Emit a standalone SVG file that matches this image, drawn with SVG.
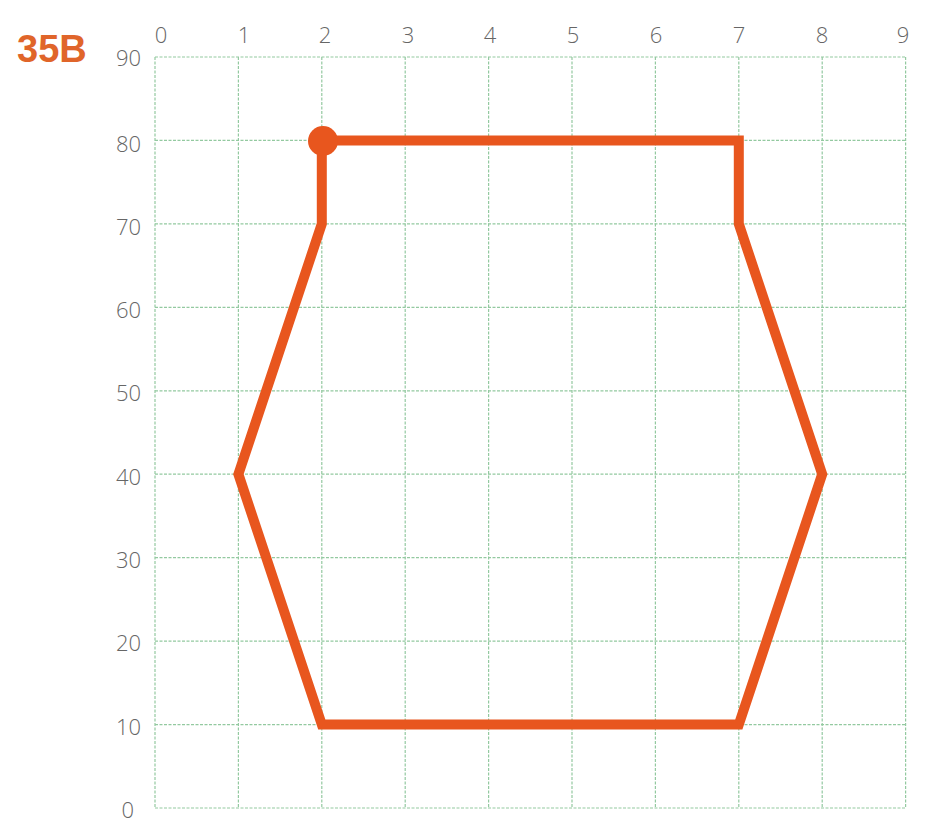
<svg xmlns="http://www.w3.org/2000/svg" width="927" height="833" viewBox="0 0 927 833">
<style>
.grid line{stroke:#93c9a0;stroke-width:1.2;stroke-dasharray:3 1.5}
.lbl{font-family:"Open Sans","Liberation Sans",sans-serif;font-size:22px;fill:#666666;font-weight:300}
.xl{text-anchor:middle}
.yl{text-anchor:end}
.title{font-family:"Liberation Sans",sans-serif;font-weight:bold;font-size:38px;fill:#e0652a}
</style>
<rect width="927" height="833" fill="#ffffff"/>
<text class="title" x="17" y="62">35B</text>
<g class="grid" id="grid">
<line x1="155" y1="57" x2="155" y2="808"/>
<line x1="238.4" y1="57" x2="238.4" y2="808"/>
<line x1="321.8" y1="57" x2="321.8" y2="808"/>
<line x1="405.2" y1="57" x2="405.2" y2="808"/>
<line x1="488.6" y1="57" x2="488.6" y2="808"/>
<line x1="572" y1="57" x2="572" y2="808"/>
<line x1="655.4" y1="57" x2="655.4" y2="808"/>
<line x1="738.8" y1="57" x2="738.8" y2="808"/>
<line x1="822.2" y1="57" x2="822.2" y2="808"/>
<line x1="905.6" y1="57" x2="905.6" y2="808"/>
<line x1="155" y1="57" x2="905.6" y2="57"/>
<line x1="155" y1="140.4" x2="905.6" y2="140.4"/>
<line x1="155" y1="223.9" x2="905.6" y2="223.9"/>
<line x1="155" y1="307.3" x2="905.6" y2="307.3"/>
<line x1="155" y1="390.8" x2="905.6" y2="390.8"/>
<line x1="155" y1="474.2" x2="905.6" y2="474.2"/>
<line x1="155" y1="557.6" x2="905.6" y2="557.6"/>
<line x1="155" y1="641.1" x2="905.6" y2="641.1"/>
<line x1="155" y1="724.6" x2="905.6" y2="724.6"/>
<line x1="155" y1="808" x2="905.6" y2="808"/>
</g>
<g id="x-labels" class="lbl xl">
<text x="161" y="43">0</text>
<text x="244" y="43">1</text>
<text x="325" y="43">2</text>
<text x="408" y="43">3</text>
<text x="490" y="43">4</text>
<text x="573" y="43">5</text>
<text x="656" y="43">6</text>
<text x="739" y="43">7</text>
<text x="822" y="43">8</text>
<text x="903" y="43">9</text>
</g>
<g id="y-labels" class="lbl yl">
<text x="141" y="66">90</text>
<text x="141" y="152">80</text>
<text x="141" y="235">70</text>
<text x="141" y="318">60</text>
<text x="141" y="401">50</text>
<text x="141" y="485">40</text>
<text x="141" y="568">30</text>
<text x="141" y="651">20</text>
<text x="141" y="735">10</text>
<text x="134" y="818">0</text>
</g>
<g id="shape">
<polyline points="321.8,140.4 738.8,140.4 738.8,223.9 822.2,474.2 738.8,724.6 321.8,724.6 238.4,474.2 321.8,223.9 321.8,140.4" fill="none" stroke="#e8561e" stroke-width="10" stroke-linejoin="miter"/>
<circle cx="323" cy="141" r="15" fill="#e8561e"/>
</g>
</svg>
